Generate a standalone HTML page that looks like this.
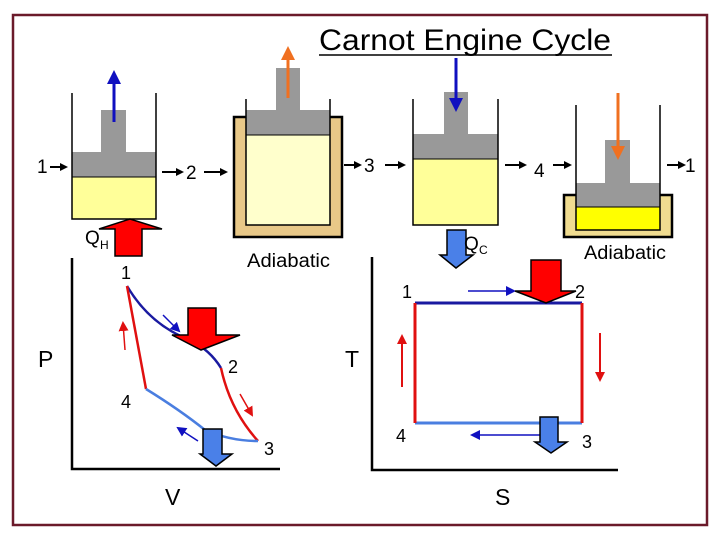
<!DOCTYPE html>
<html><head><meta charset="utf-8"><style>
html,body{margin:0;padding:0;background:#fff;}
svg{display:block;font-family:"Liberation Sans",Arial,sans-serif;}
</style></head><body>
<svg width="720" height="540" viewBox="0 0 720 540" xmlns="http://www.w3.org/2000/svg">
<defs>
<marker id="ab" markerWidth="8" markerHeight="8" refX="6" refY="4" orient="auto" markerUnits="userSpaceOnUse"><path d="M0,0 L8,4 L0,8 Z" fill="#000"/></marker>
<marker id="ablue" markerWidth="10" markerHeight="10" refX="8" refY="5" orient="auto" markerUnits="userSpaceOnUse"><path d="M0,0 L10,5 L0,10 Z" fill="#1010c0"/></marker>
<marker id="ared" markerWidth="10" markerHeight="10" refX="8" refY="5" orient="auto" markerUnits="userSpaceOnUse"><path d="M0,0 L10,5 L0,10 Z" fill="#e01010"/></marker>
<marker id="aor" markerWidth="14" markerHeight="14" refX="10" refY="7" orient="auto" markerUnits="userSpaceOnUse"><path d="M0,0 L14,7 L0,14 Z" fill="#f07020"/></marker>
<marker id="abig" markerWidth="14" markerHeight="14" refX="10" refY="7" orient="auto" markerUnits="userSpaceOnUse"><path d="M0,0 L14,7 L0,14 Z" fill="#1010c0"/></marker>
</defs>
<rect x="13" y="15" width="694" height="510" fill="#fff" stroke="#6b1a2a" stroke-width="2.5"/>
<text x="319" y="50" font-size="30" textLength="292" lengthAdjust="spacingAndGlyphs" fill="#000">Carnot Engine Cycle</text>
<line x1="319" y1="55" x2="612" y2="55" stroke="#000" stroke-width="1.5"/>

<!-- cylinder 1 -->
<rect x="72" y="177" width="84" height="42" fill="#ffff99"/>
<rect x="72" y="152" width="84" height="25" fill="#999"/>
<rect x="101" y="110" width="25" height="42" fill="#999"/>
<line x1="72" y1="177" x2="156" y2="177" stroke="#000"/>
<path d="M72,93 V219 H156 V93" fill="none" stroke="#000" stroke-width="1.5"/>
<line x1="114" y1="122" x2="114" y2="74" stroke="#1010c0" stroke-width="3" marker-end="url(#abig)"/>
<text x="37" y="173" font-size="19">1</text>
<line x1="50" y1="167" x2="66" y2="167" stroke="#000" stroke-width="2" marker-end="url(#ab)"/>
<line x1="162" y1="172" x2="182" y2="172" stroke="#000" stroke-width="2" marker-end="url(#ab)"/>
<text x="186" y="179" font-size="19">2</text>
<line x1="204" y1="172" x2="226" y2="172" stroke="#000" stroke-width="2" marker-end="url(#ab)"/>
<path d="M115,256 V229 H99 L130,219 L162,229 H142 V256 Z" fill="#ff0000" stroke="#000" stroke-width="1.5"/>
<text x="85" y="244" font-size="19">Q</text><text x="100" y="249" font-size="12">H</text>

<!-- cylinder 2 -->
<rect x="234" y="117" width="108" height="120" fill="#e8c888" stroke="#000" stroke-width="2.5"/>
<rect x="246" y="135" width="84" height="90" fill="#ffffcc"/>
<rect x="246" y="110" width="84" height="25" fill="#999"/>
<rect x="276" y="68" width="24" height="42" fill="#999"/>
<line x1="246" y1="135" x2="330" y2="135" stroke="#000"/>
<path d="M246,99 V225 H330 V99" fill="none" stroke="#000" stroke-width="1.5"/>
<line x1="288" y1="98" x2="288" y2="50" stroke="#f07020" stroke-width="3" marker-end="url(#aor)"/>
<text x="247" y="267" font-size="19" textLength="83" lengthAdjust="spacingAndGlyphs">Adiabatic</text>
<line x1="344" y1="165" x2="360" y2="165" stroke="#000" stroke-width="2" marker-end="url(#ab)"/>
<text x="364" y="172" font-size="19">3</text>
<line x1="385" y1="165" x2="404" y2="165" stroke="#000" stroke-width="2" marker-end="url(#ab)"/>

<!-- cylinder 3 -->
<rect x="413" y="159" width="85" height="66" fill="#ffff99"/>
<rect x="413" y="134" width="85" height="25" fill="#999"/>
<rect x="444" y="92" width="24" height="42" fill="#999"/>
<line x1="413" y1="159" x2="498" y2="159" stroke="#000"/>
<path d="M413,99 V225 H498 V99" fill="none" stroke="#000" stroke-width="1.5"/>
<line x1="456" y1="58" x2="456" y2="108" stroke="#1010c0" stroke-width="3" marker-end="url(#abig)"/>
<line x1="505" y1="165" x2="525" y2="165" stroke="#000" stroke-width="2" marker-end="url(#ab)"/>
<text x="534" y="177" font-size="19">4</text>
<line x1="553" y1="165" x2="570" y2="165" stroke="#000" stroke-width="2" marker-end="url(#ab)"/>
<path d="M447,230 V255 H440 L456,268 L473,255 H466 V230 Z" fill="#4a80e8" stroke="#000" stroke-width="1.5"/>
<text x="464" y="250" font-size="19">Q</text><text x="479" y="254" font-size="12">C</text>

<!-- cylinder 4 -->
<rect x="564" y="195" width="108" height="42" fill="#f0dc90" stroke="#000" stroke-width="2.5"/>
<rect x="576" y="207" width="84" height="23" fill="#ffff00"/>
<rect x="576" y="183" width="84" height="24" fill="#999"/>
<rect x="605" y="140" width="25" height="43" fill="#999"/>
<line x1="576" y1="207" x2="660" y2="207" stroke="#000"/>
<path d="M576,105 V230 H660 V105" fill="none" stroke="#000" stroke-width="1.5"/>
<line x1="618" y1="93" x2="618" y2="156" stroke="#f07020" stroke-width="3" marker-end="url(#aor)"/>
<line x1="667" y1="165" x2="684" y2="165" stroke="#000" stroke-width="2" marker-end="url(#ab)"/>
<text x="685" y="172" font-size="19">1</text>
<text x="584" y="259" font-size="19" textLength="82" lengthAdjust="spacingAndGlyphs">Adiabatic</text>

<!-- PV plot -->
<path d="M72,258 V469 H280" fill="none" stroke="#000" stroke-width="2.5"/>
<text x="38" y="367" font-size="23">P</text>
<text x="165" y="505" font-size="23">V</text>
<path d="M127,286 Q150,325 190,340 Q210,350 221,368" fill="none" stroke="#1a1aa0" stroke-width="2.5"/>
<path d="M221,368 Q230,410 258,441" fill="none" stroke="#e01010" stroke-width="2.5"/>
<path d="M146,389 L127,286" fill="none" stroke="#e01010" stroke-width="2.5"/>
<path d="M146,389 Q180,410 205,430 Q230,441 258,441" fill="none" stroke="#4a7ee0" stroke-width="2.5"/>
<text x="121" y="279" font-size="18">1</text>
<text x="228" y="373" font-size="18">2</text>
<text x="121" y="408" font-size="18">4</text>
<text x="264" y="455" font-size="18">3</text>
<path d="M188,308 V335 H172 L201,350 L240,335 H216 V308 Z" fill="#ff0000" stroke="#000" stroke-width="1.5"/>
<line x1="163" y1="315" x2="179" y2="331" stroke="#1010c0" stroke-width="1.5" marker-end="url(#ablue)"/>
<line x1="125" y1="350" x2="123" y2="323" stroke="#e01010" stroke-width="1.5" marker-end="url(#ared)"/>
<line x1="240" y1="394" x2="252" y2="415" stroke="#e01010" stroke-width="1.5" marker-end="url(#ared)"/>
<line x1="198" y1="441" x2="178" y2="428" stroke="#1010c0" stroke-width="1.5" marker-end="url(#ablue)"/>
<path d="M203,429 V454 H200 L216,466 L232,454 H222 V429 Z" fill="#4a80e8" stroke="#000" stroke-width="1.5"/>

<!-- TS plot -->
<path d="M372,257 V470 H618" fill="none" stroke="#000" stroke-width="2.5"/>
<text x="345" y="367" font-size="23">T</text>
<text x="495" y="505" font-size="23">S</text>
<line x1="415" y1="303" x2="582" y2="303" stroke="#1a1aa0" stroke-width="3"/>
<line x1="415" y1="423" x2="582" y2="423" stroke="#4a7ee0" stroke-width="3"/>
<line x1="415" y1="303" x2="415" y2="423" stroke="#e01010" stroke-width="3"/>
<line x1="582" y1="303" x2="582" y2="423" stroke="#e01010" stroke-width="3"/>
<text x="402" y="298" font-size="18">1</text>
<text x="575" y="298" font-size="18">2</text>
<text x="396" y="442" font-size="18">4</text>
<text x="582" y="448" font-size="18">3</text>
<line x1="468" y1="291" x2="514" y2="291" stroke="#1010c0" stroke-width="1.5" marker-end="url(#ablue)"/>
<path d="M531,260 V291 H515 L546,303 L576,291 H561 V260 Z" fill="#ff0000" stroke="#000" stroke-width="1.5"/>
<line x1="402" y1="387" x2="402" y2="336" stroke="#e01010" stroke-width="2" marker-end="url(#ared)"/>
<line x1="600" y1="333" x2="600" y2="380" stroke="#e01010" stroke-width="2" marker-end="url(#ared)"/>
<line x1="540" y1="435" x2="472" y2="435" stroke="#1010c0" stroke-width="1.5" marker-end="url(#ablue)"/>
<path d="M540,417 V442 H535 L551,453 L567,442 H558 V417 Z" fill="#4a80e8" stroke="#000" stroke-width="1.5"/>
</svg>
</body></html>
